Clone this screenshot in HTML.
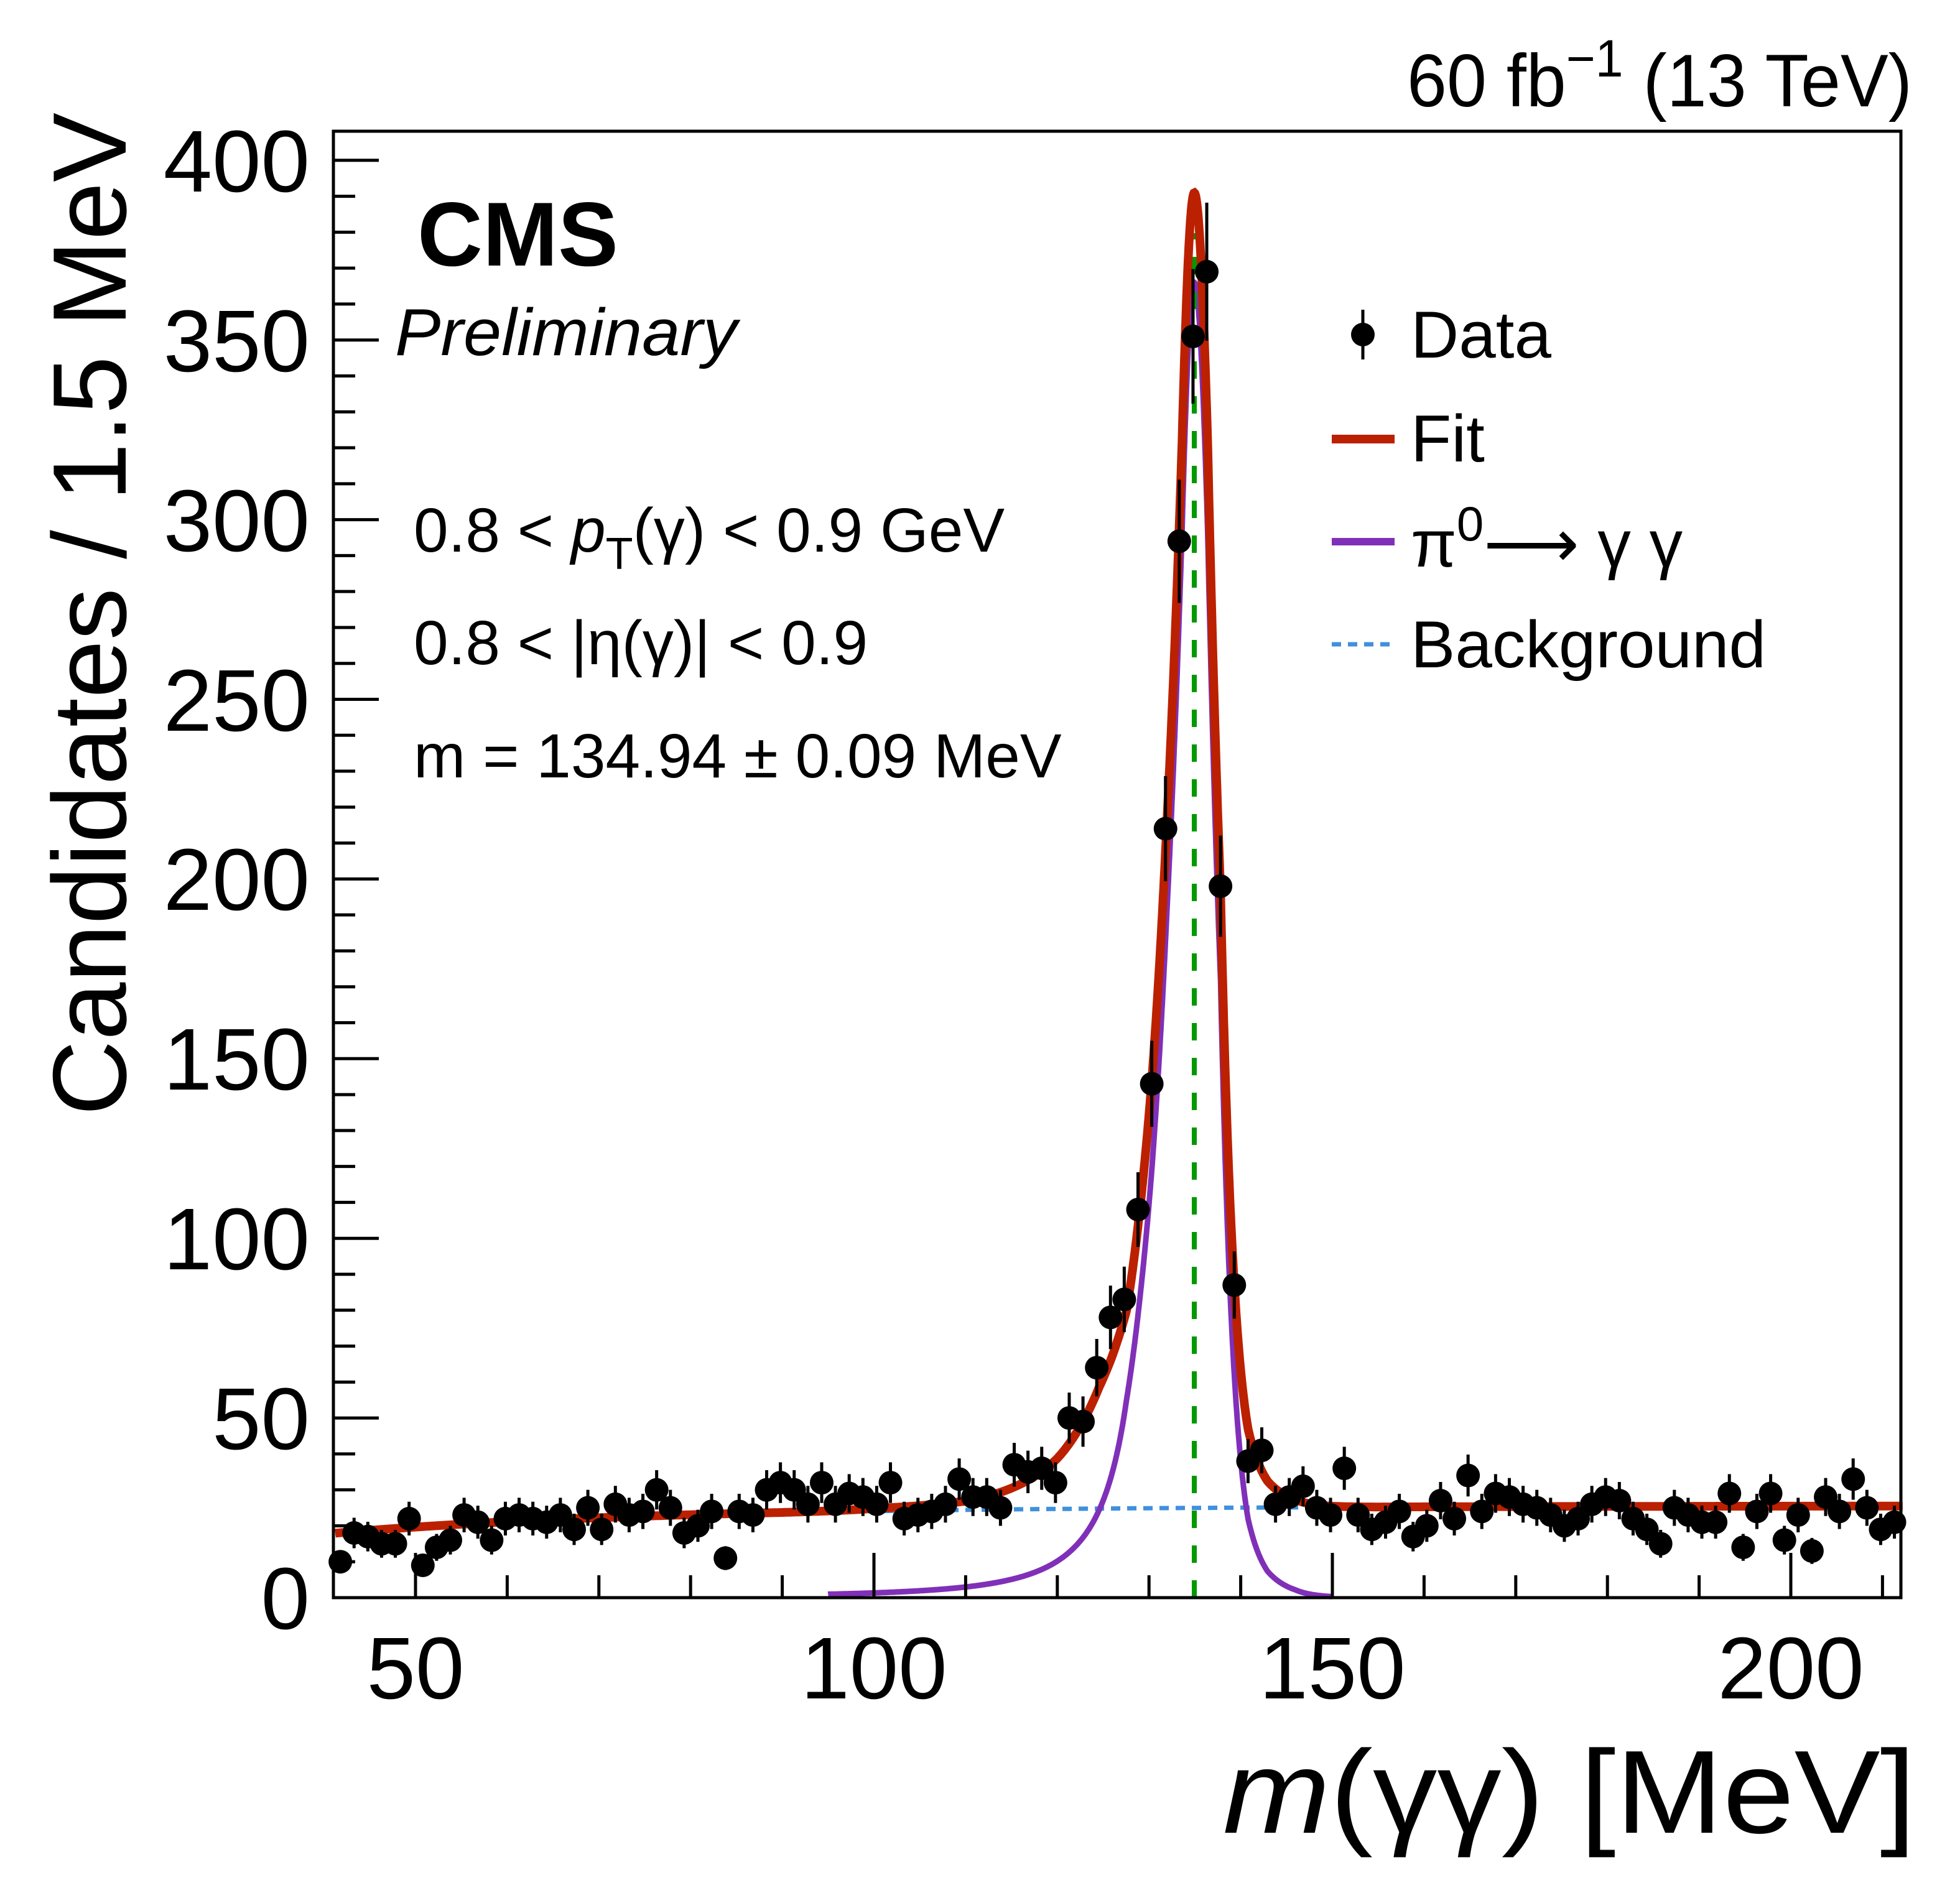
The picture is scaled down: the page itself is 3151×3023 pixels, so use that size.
<!DOCTYPE html>
<html><head><meta charset="utf-8"><style>
html,body{margin:0;padding:0;background:#fff;}
svg{display:block;}
text{font-family:"Liberation Sans",sans-serif;fill:#000;}
</style></head><body>
<svg id="s" width="3151" height="3023" viewBox="0 0 3151 3023" xmlns="http://www.w3.org/2000/svg">
<rect width="3151" height="3023" fill="#fff"/>
<g id="plot"></g>
<rect x="536" y="211" width="2520" height="2358" fill="none" stroke="#000" stroke-width="5"/>
<g id="ticks" stroke="#000" stroke-width="5"></g>
<g font-size="141" text-anchor="end">
<text x="498" y="2619">0</text>
<text x="498" y="2330">50</text>
<text x="498" y="2041">100</text>
<text x="498" y="1752">150</text>
<text x="498" y="1463">200</text>
<text x="498" y="1175">250</text>
<text x="498" y="886">300</text>
<text x="498" y="597">350</text>
<text x="498" y="308">400</text>
</g>
<g font-size="141" text-anchor="middle">
<text x="668" y="2731">50</text>
<text x="1405" y="2731">100</text>
<text x="2142" y="2731">150</text>
<text x="2879" y="2731">200</text>
</g>
<text transform="translate(202,1794) rotate(-90)" font-size="168" textLength="1613" lengthAdjust="spacingAndGlyphs">Candidates / 1.5 MeV</text>
<text x="1966" y="2947" font-size="190" textLength="1114" lengthAdjust="spacingAndGlyphs"><tspan font-style="italic">m</tspan>(γγ) [MeV]</text>
<text x="2262" y="171" font-size="120" textLength="812" lengthAdjust="spacingAndGlyphs">60 fb<tspan dy="-48" font-size="84">−1</tspan><tspan dy="48"> (13 TeV)</tspan></text>
<text x="671" y="427" font-size="146" font-weight="bold" textLength="323" lengthAdjust="spacingAndGlyphs">CMS</text>
<text x="635" y="571" font-size="107" font-style="italic" textLength="550" lengthAdjust="spacingAndGlyphs">Preliminary</text>
<g font-size="100">
<text x="665" y="887">0.8 &lt; <tspan font-style="italic">p</tspan><tspan dy="28" font-size="72">T</tspan><tspan dy="-28">(γ) &lt; 0.9 GeV</tspan></text>
<text x="665" y="1068">0.8 &lt; |η(γ)| &lt; 0.9</text>
<text x="665" y="1250">m = 134.94 ± 0.09 MeV</text>
</g>
<line x1="2191" y1="498" x2="2191" y2="578" stroke="#000" stroke-width="5"/>
<circle cx="2191" cy="538" r="19" fill="#000"/>
<line x1="2141" y1="706" x2="2242" y2="706" stroke="#bb2000" stroke-width="14"/>
<line x1="2141" y1="871" x2="2242" y2="871" stroke="#8030b8" stroke-width="12"/>
<line x1="2141" y1="1036" x2="2242" y2="1036" stroke="#4090dd" stroke-width="7" stroke-dasharray="15,11"/>
<g font-size="107">
<text x="2268" y="575">Data</text>
<text x="2268" y="742">Fit</text>
<text x="2268" y="911" font-family="Liberation Serif,serif">π<tspan dy="-42" font-size="78" font-family="Liberation Sans,sans-serif">0</tspan><tspan dy="42">⟶ γ γ</tspan></text>
<text x="2268" y="1073">Background</text>
</g>
</svg>
<script>
(function(){
var NS="http://www.w3.org/2000/svg";
function X(m){return 668+(m-50)*14.74;}
function Y(v){return 2569-v*5.778;}
function el(tag,attrs,parent){var e=document.createElementNS(NS,tag);for(var k in attrs)e.setAttribute(k,attrs[k]);parent.appendChild(e);return e;}
var plot=document.getElementById("plot"), ticks=document.getElementById("ticks");
for(var v=0;v<=400;v+=10){var L=(v%50==0)?73:35;el("line",{x1:536,y1:Y(v),x2:536+L,y2:Y(v)},ticks);}
for(var m=50;m<=210;m+=10){var L=(m%50==0)?72:36;el("line",{x1:X(m),y1:2569,x2:X(m),y2:2569-L},ticks);}
function bg(m){return 25.5-7.5*Math.exp(-(m-42)/35);}
var mu=134.94, A=366;
var Lt=[[0,1],[1.34,.81],[3,.52],[4.64,.325],[5.9,.23],[7.4,.15],[9,.115],[10.4,.092],[12.5,.062],[15,.038],[20,.016],[25,.0066],[35,.002],[45,.0003]];
var Rt=[[0,1],[1.46,.81],[2.86,.47],[4.36,.17],[5.86,.06],[8,.02],[11,.006],[15,.0008],[20,.0001]];
function interp(t,d){if(d>=t[t.length-1][0])return t[t.length-1][1];
 for(var i=1;i<t.length;i++){if(d<=t[i][0]){var a=t[i-1],b=t[i];var f=(d-a[0])/(b[0]-a[0]);
  if(i==1){return Math.exp(Math.log(b[1])*(d*d)/(b[0]*b[0]));}
  return Math.exp(Math.log(a[1])+(Math.log(b[1])-Math.log(a[1]))*f);}}return 0;}
function sig(m){var d=m-mu;return A*(d<0?interp(Lt,-d):interp(Rt,d));}
function pur(m){var d=m-mu;if(d>=0)return A*interp(Rt,d);d=-d;
 if(d<=7.4)return A*interp(Lt,d);return A*0.15*Math.pow(7.4/d,2.4);}
var p="";for(var m=41.25;m<=212.25;m+=0.5){p+=(p?"L":"M")+X(m).toFixed(1)+","+Y(bg(m)).toFixed(1);}
el("path",{d:p,fill:"none",stroke:"#4090dd","stroke-width":7,"stroke-dasharray":"15,11"},plot);
p="";for(var m=95;m<=150;m+=0.05){p+=(p?"L":"M")+X(m).toFixed(1)+","+Y(pur(m)).toFixed(1);}
el("path",{d:p,fill:"none",stroke:"#8030b8","stroke-width":9},plot);
el("line",{x1:X(mu),y1:2569,x2:X(mu),y2:375,stroke:"#009900","stroke-width":8,"stroke-dasharray":"28,28"},plot);
p="";for(var m=41.25;m<=212.25;m+=0.05){p+=(p?"L":"M")+X(m).toFixed(1)+","+Y(bg(m)+sig(m)).toFixed(1);}
el("path",{d:p,fill:"none",stroke:"#bb2000","stroke-width":14,"stroke-linejoin":"miter"},plot);
var D=[10,18,17,15,15,22,9,14,16,23,21,16,22,23,22,21,23,19,25,19,26,23,24,30,25,18,20,24,11,24,23,30,32,30,26,32,26,29,28,26,32,22,23,24,26,33,28,28,25,37,35,36,32,50,49,64,78,83,108,143,214,294,351,369,198,87,38,41,26,28,31,25,23,36,23,19,21,24,17,20,27,22,34,24,29,28,26,25,23,20,22,26,28,27,22,19,15,25,23,21,21,29,14,24,29,16,23,13,28,24,33,25,19,21];
for(var i=0;i<D.length;i++){var m=41.8+1.5*i,v=D[i],e=Math.sqrt(v),x=X(m);
 el("line",{x1:x,y1:Math.min(Y(v-e),2569),x2:x,y2:Y(v+e),stroke:"#000","stroke-width":5},plot);
 el("circle",{cx:x,cy:Y(v),r:19,fill:"#000"},plot);}
})();
</script>
</body></html>
